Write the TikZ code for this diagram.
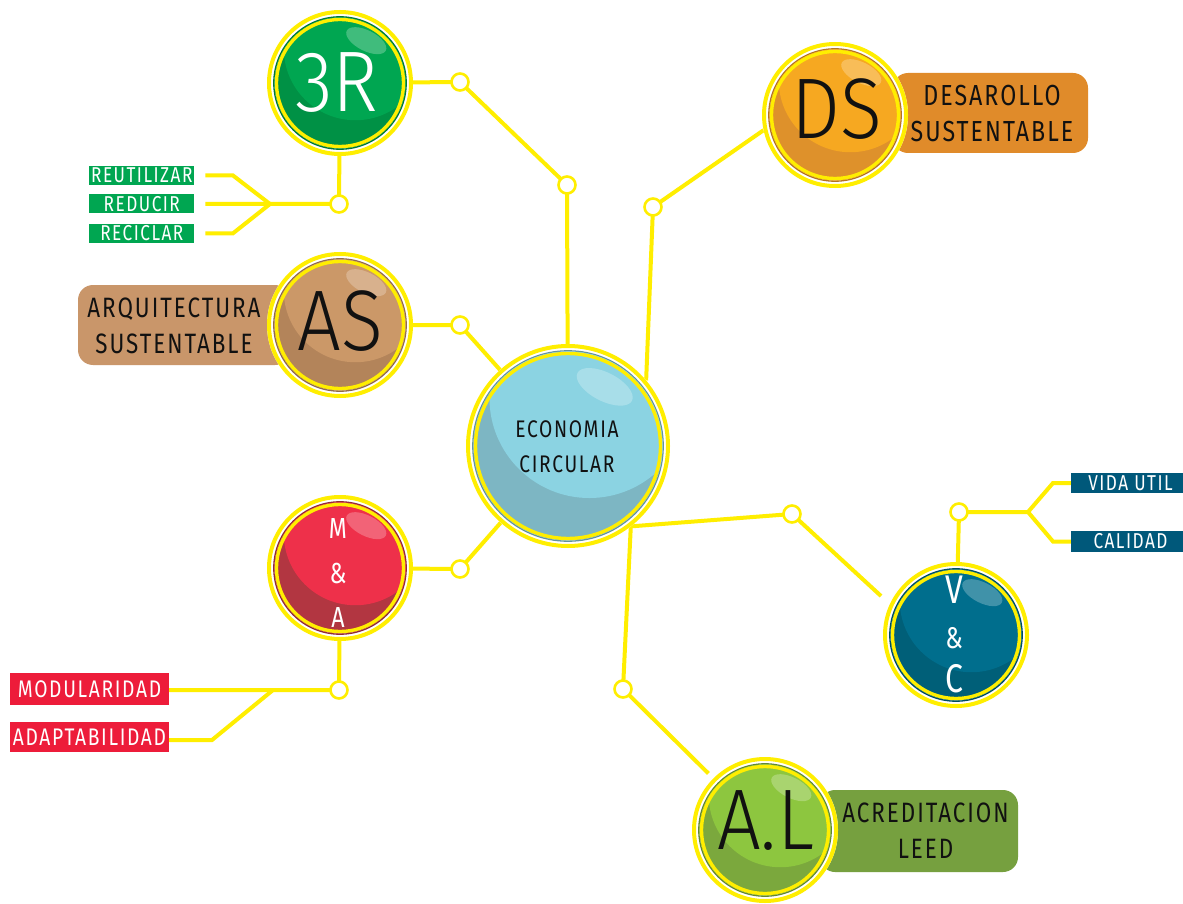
\documentclass[tikz,border=0pt]{standalone}
\usepackage{fontspec}
\usetikzlibrary{calc,backgrounds}

% large thin letters inside the bubbles
\IfFontExistsTF{Fira Sans Light}{%
  \newfontfamily\thinfont{Fira Sans Light}[FakeStretch=0.90]%
}{%
  \newfontfamily\thinfont{Fira Sans}[FakeStretch=0.88]%
}
% narrow, spaced lettering for the labels
\IfFontExistsTF{Fira Sans Book}{%
  \newfontfamily\spacedfont{Fira Sans Book}[FakeStretch=0.80,LetterSpace=7]%
}{%
  \newfontfamily\spacedfont{Fira Sans}[FakeStretch=0.80,LetterSpace=7]%
}

\definecolor{ringyellow}{HTML}{FFEE00}
\definecolor{inkblack}{HTML}{111111}
\definecolor{grnbase}{HTML}{00A651}
\definecolor{grndark}{HTML}{009145}
\definecolor{orgbase}{HTML}{F6A821}
\definecolor{orgdark}{HTML}{DE912B}
\definecolor{orgbox}{HTML}{E08B2A}
\definecolor{tanbase}{HTML}{CB9868}
\definecolor{tandark}{HTML}{B3845A}
\definecolor{tanbox}{HTML}{C9966A}
\definecolor{bluebase}{HTML}{8BD3E2}
\definecolor{bluedark}{HTML}{7DB6C3}
\definecolor{redbase}{HTML}{EE304A}
\definecolor{reddark}{HTML}{B23641}
\definecolor{redlabel}{HTML}{ED1C3A}
\definecolor{tealbase}{HTML}{006E8D}
\definecolor{tealdark}{HTML}{005F78}
\definecolor{teallabel}{HTML}{00587A}
\definecolor{limebase}{HTML}{8DC63F}
\definecolor{limedark}{HTML}{7BA83D}
\definecolor{limebox}{HTML}{76A03F}

% glossy bubble: #1 name, #2 centre, #3 radius, #4 base colour, #5 shade colour
\newcommand{\bubble}[5]{%
  \node[circle, inner sep=0pt, outer sep=0pt, minimum size={2*#3pt}] (#1) at (#2) {};
  \fill[white] (#1.center) circle[radius={#3pt}];
  \draw[ringyellow, line width=4pt] (#1.center) circle[radius={#3pt-2pt}];
  \draw[#5!80!black, line width=1.3pt] (#1.center) circle[radius={#3pt-6.8pt}];
  \begin{scope}
    \clip (#1.center) circle[radius={#3pt-7.4pt}];
    \fill[#5] (#1.center) circle[radius={#3pt}];
    \fill[#4] ($(#1.center)+(0.21*#3,-0.47*#3)$) circle[radius={0.98*#3pt}];
    \fill[white, opacity=0.25, shift={($(#1.center)+(0.36*#3,-0.58*#3)$)}, rotate=-27]
      (0,0) ellipse[x radius={0.30*#3pt}, y radius={0.14*#3pt}];
  \end{scope}
  \draw[ringyellow, line width=3.4pt] (#1.center) circle[radius={#3pt-9.5pt}];
}

\begin{document}
\begin{tikzpicture}[x=1pt, y=-1pt,
  link/.style={draw=ringyellow, line width=4pt},
  knot/.style={circle, draw=ringyellow, fill=white, line width=2.6pt,
    minimum size=17pt, inner sep=0pt, outer sep=0pt},
  tag/.style={rounded corners=15pt, inner sep=0pt, outer sep=0pt},
  bigtxt/.style={font=\thinfont\fontsize{86pt}{86pt}\selectfont, inner sep=0pt, text=inkblack},
  wordtxt/.style={font=\spacedfont\fontsize{28pt}{36pt}\selectfont, align=center,
    inner sep=0pt, text=inkblack},
  chip/.style={inner sep=0pt, outer sep=0pt, text=white,
    font=\spacedfont\fontsize{21.5pt}{21.5pt}\selectfont},
  redchip/.style={chip, fill=redlabel, font=\spacedfont\fontsize{24pt}{24pt}\selectfont,
    minimum width=159pt},
]
\useasboundingbox (0,0) rectangle (1183,904);

% coloured tags that sit behind their bubbles
\node[tag, fill=orgbox, minimum width=195pt, minimum height=80pt] (bDS) at (990.5,113) {};
\node[tag, fill=tanbox, minimum width=212pt, minimum height=80pt] (bAS) at (184,325) {};
\node[tag, fill=limebox, minimum width=198pt, minimum height=82pt] (bAL) at (919,831) {};

% bubbles
\bubble{c3R}{340,83}{73}{grnbase}{grndark}
\bubble{cDS}{835,115}{73}{orgbase}{orgdark}
\bubble{cAS}{340,325}{73}{tanbase}{tandark}
\bubble{cEC}{568,446}{102}{bluebase}{bluedark}
\bubble{cMA}{340,568}{73}{redbase}{reddark}
\bubble{cVC}{956,635}{73}{tealbase}{tealdark}
\bubble{cAL}{765,830}{73}{limebase}{limedark}

% bubble lettering
\node[bigtxt, text=white] (t3R) at (337,83) {3R};
\node[bigtxt] (tDS) at (837,109.5) {DS};
\node[bigtxt] (tAS) at (340.5,321.5) {AS};
\node[bigtxt] (tAL) at (765.5,820.5) {A.L};
\node[wordtxt, font=\spacedfont\fontsize{24pt}{35pt}\selectfont] (tEC) at (567,446.5) {ECONOMIA\\CIRCULAR};
\node[wordtxt, text=white, font=\spacedfont\fontsize{29pt}{44.5pt}\selectfont]
  (tMA) at (338,573.5) {M\\\&\\A};
\node[wordtxt, text=white, font=\spacedfont\fontsize{40pt}{44.5pt}\selectfont]
  (tVC) at (954,634.5) {V\\{\fontsize{30pt}{30pt}\selectfont\&}\\C};

% tag texts
\node[wordtxt, font=\spacedfont\fontsize{29pt}{36pt}\selectfont] (wDS) at (992,114) {DESAROLLO\\SUSTENTABLE};
\node[wordtxt] (wAS) at (174,325.5) {ARQUITECTURA\\SUSTENTABLE};
\node[wordtxt] (wAL) at (925.5,830.5) {ACREDITACION\\LEED};

% small labels
\node[chip, fill=grnbase, minimum width=105pt, minimum height=19pt] (lReu) at (141.8,175.5) {REUTILIZAR};
\node[chip, fill=grnbase, minimum width=105pt, minimum height=19pt] (lRed) at (141.8,203.8) {REDUCIR};
\node[chip, fill=grnbase, minimum width=105pt, minimum height=19pt] (lRec) at (141.8,233.3) {RECICLAR};
\node[redchip, minimum height=32pt] (lMod) at (89.5,689) {MODULARIDAD};
\node[redchip, minimum height=30pt] (lAda) at (89.5,737) {ADAPTABILIDAD};
\node[chip, fill=teallabel, minimum width=119pt, minimum height=20pt] (lVida) at (1130.5,483) {VIDA UTIL};
\node[chip, fill=teallabel, minimum width=119pt, minimum height=21pt] (lCal) at (1130.5,541.5) {CALIDAD};

% junction rings
\node[knot] (j3Ra) at (460,82) {};
\node[knot] (j3Rb) at (567,185) {};
\node[knot] (jDS) at (653,207) {};
\node[knot] (jAS) at (460,325) {};
\node[knot] (jMA) at (460,569) {};
\node[knot] (jVC) at (792,514) {};
\node[knot] (jAL) at (623,689) {};
\node[knot] (j3Rd) at (339,204) {};
\node[knot] (jMAd) at (339,690) {};
\node[knot] (jVCu) at (959,512) {};

% fork and bend points
\coordinate (f3R) at (270,204);
\coordinate (b3Ra) at (233,175.5);
\coordinate (b3Rc) at (233,233.3);
\coordinate (fMA) at (273,690);
\coordinate (bMA) at (212,740);
\coordinate (fVC) at (1028,512);
\coordinate (bVCa) at (1053,483);
\coordinate (bVCb) at (1053,541.5);

\begin{scope}[on background layer]
  \fill[white] (0,0) rectangle (1183,904);
  % spokes from the centre
  \draw[link] (c3R) -- (j3Ra) -- (j3Rb) -- (cEC);
  \draw[link] (cEC.40) -- (jDS) -- (cDS.192);
  \draw[link] (cAS) -- (jAS) -- (cEC);
  \draw[link] (cMA) -- (jMA) -- (cEC);
  \draw[link] (cEC.-52) -- (jVC);
  \draw[link, shorten >=12pt] (jVC) -- (cVC.155);
  \draw[link] (cEC.-52) -- (jAL);
  \draw[link, shorten >=7pt] (jAL) -- (cAL.135);
  % 3R branches
  \draw[link] (c3R) -- (j3Rd);
  \draw[link, shorten >=11pt] (j3Rd) -- (f3R) -- (lRed.east);
  \draw[link, shorten >=11pt] (f3R) -- (b3Ra) -- (lReu.east);
  \draw[link, shorten >=11pt] (f3R) -- (b3Rc) -- (lRec.east);
  % M&A branches
  \draw[link] (cMA) -- (jMAd) -- (jMAd -| lMod.east);
  \draw[link] (fMA) -- (bMA) -- (bMA -| lAda.east);
  % V&C branches
  \draw[link] (cVC) -- (jVCu) -- (fVC);
  \draw[link] (fVC) -- (bVCa) -- (lVida.west);
  \draw[link] (fVC) -- (bVCb) -- (lCal.west);
\end{scope}
\end{tikzpicture}
\end{document}
